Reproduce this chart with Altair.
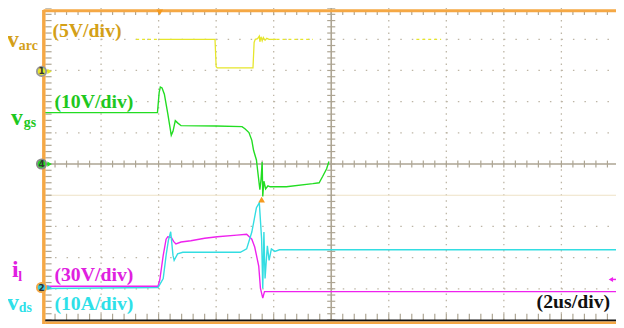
import altair as alt
import numpy as np
import pandas as pd

# ---------------- data ----------------
# time axis in divisions from the left edge (2 us/div),
# amplitude in screen divisions measured from the centre line
varc_t = [2.02, 2.98, 3.00, 3.02, 3.64, 3.66, 3.68, 3.72, 3.75, 3.76, 3.78, 3.80, 3.82, 3.85, 3.88, 3.92, 4.05]
varc_v = [4.00, 4.00, 3.12, 3.08, 3.08, 3.90, 4.00, 4.02, 4.10, 3.92, 4.08, 3.95, 4.06, 3.97, 4.03, 4.00, 4.00]
varc_dash_t = [1.61, 2.02, 4.05, 4.68, 6.48, 6.91]
varc_dash_v = [4.00, 4.00, 4.00, 4.00, 4.00, 4.00]
varc_dash_seg = [0, 0, 1, 1, 2, 2]

vgs_t = [0.00, 1.98, 2.01, 2.03, 2.06, 2.10, 2.16, 2.22, 2.25, 2.29, 2.33, 2.39, 3.00, 3.45, 3.50,
         3.57, 3.62, 3.65, 3.70, 3.72, 3.76, 3.78, 3.80, 3.81, 3.83, 3.86, 3.90, 3.94, 4.22, 4.68,
         4.79, 4.85, 4.92, 4.96]
vgs_v = [1.65, 1.65, 2.30, 2.47, 2.44, 2.24, 1.61, 0.92, 1.05, 1.39, 1.32, 1.23, 1.22, 1.20, 1.13,
         1.01, 0.76, 0.44, 0.13, -0.19, -0.82, -0.50, 0.06, -1.04, -0.55, -0.80, -0.70, -0.73, -0.73, -0.63,
         -0.60, -0.40, -0.15, 0.08]

il_t = [0.00, 1.99, 2.02, 2.08, 2.13, 2.16, 2.22, 2.26, 2.30, 2.39, 2.56, 2.80, 3.02, 3.36, 3.53,
        3.62, 3.67, 3.74, 3.77, 3.81, 3.84, 9.95]
il_v = [-3.92, -3.92, -3.72, -2.93, -2.41, -2.33, -2.35, -2.48, -2.56, -2.50, -2.46, -2.38, -2.33, -2.28, -2.25,
        -2.41, -2.66, -3.27, -3.99, -4.30, -4.09, -4.09]

vds_t = [0.00, 1.99, 2.08, 2.13, 2.17, 2.21, 2.25, 2.27, 2.33, 2.42, 3.42, 3.53, 3.62, 3.70, 3.75,
         3.79, 3.81, 3.83, 3.85, 3.89, 3.92, 3.96, 4.02, 4.10, 9.95]
vds_v = [-3.99, -3.96, -3.67, -2.93, -2.45, -2.17, -2.93, -3.09, -2.88, -2.83, -2.83, -2.72, -2.18, -1.40, -1.24,
         -2.40, -3.99, -2.18, -3.67, -2.62, -3.09, -2.72, -2.80, -2.75, -2.75]

# channel ground markers (left edge) and their levels in divisions
gnd_label = ["1", "4", "2"]
gnd_level = [2.97, 0.00, -3.96]
ch3_gnd_level = -3.70           # magenta marker on the right edge
trig_time = 2.02                # trigger position (top marker)
trig_level = -1.14              # trigger level marker

# ---------------- styling ----------------
YEL, YEL_TXT = "#E6E62A", "#D4A017"
GRN, GRN_TXT = "#22DD22", "#1EC81E"
MAG, MAG_TXT = "#EE22EE", "#E020E0"
CYN, CYN_TXT = "#33DDE2", "#2EE0E8"
ORANGE = "#F5A845"
GRID = "#BDB5A5"
AXIS = "#ADA593"
FONT = "Times New Roman, Liberation Serif, serif"

X_DOM = [-0.6175, 9.949]
Y_DOM = [-5.127, 4.937]
xs = alt.Scale(domain=X_DOM, nice=False, zero=False)
ys = alt.Scale(domain=Y_DOM, nice=False, zero=False)


def X(f):
    return alt.X(f"{f}:Q", scale=xs, axis=None)


def Y(f):
    return alt.Y(f"{f}:Q", scale=ys, axis=None)


def rules(df, **mk):
    return alt.Chart(df).mark_rule(**mk).encode(x=X("x"), x2="x2", y=Y("y"), y2="y2")


def trace(t, v, color, width=1.4):
    df = pd.DataFrame({"t": t, "v": v})
    return alt.Chart(df).mark_line(color=color, strokeWidth=width, interpolate="linear").encode(
        x=X("t"), y=Y("v"), order="t:Q")


layers = []

# dotted grid
vx = [1, 2, 3, 4, 6, 7, 8, 9]
layers.append(rules(pd.DataFrame({"x": vx, "x2": vx, "y": [-5] * 8, "y2": [5] * 8}),
                    color=GRID, strokeWidth=1.3, strokeDash=[1.5, 4.8]))
hy = [-4, -3, -2, 1, 2, 3, 4]
layers.append(rules(pd.DataFrame({"x": [0] * 7, "x2": [10] * 7, "y": hy, "y2": hy}),
                    color=GRID, strokeWidth=1.3, strokeDash=[1.5, 10.16]))
# trigger-level line (faint)
layers.append(rules(pd.DataFrame({"x": [0], "x2": [10], "y": [-1], "y2": [-1]}),
                    color="#EEE2C6", strokeWidth=1.2))

# centre axes
layers.append(rules(pd.DataFrame({"x": [5, 0], "x2": [5, 10], "y": [-5, 0], "y2": [5, 0]}),
                    color=AXIS, strokeWidth=1.6))

# minor ticks
ty = np.round(np.arange(-5, 5.001, 0.2), 2)
tx = np.round(np.arange(0, 10.001, 0.2), 2)
layers.append(rules(pd.DataFrame({"x": 4.93, "x2": 5.07, "y": ty, "y2": ty}), color=AXIS, strokeWidth=1.2))
layers.append(rules(pd.DataFrame({"x": tx, "x2": tx, "y": -0.11, "y2": 0.11}), color=AXIS, strokeWidth=1.2))
layers.append(rules(pd.DataFrame({"x": tx, "x2": tx, "y": 4.93, "y2": 4.78}), color=AXIS, strokeWidth=1.2))
layers.append(rules(pd.DataFrame({"x": tx, "x2": tx, "y": -5.0, "y2": -4.80}), color=AXIS, strokeWidth=1.2))
layers.append(rules(pd.DataFrame({"x": 0.03, "x2": 0.14, "y": ty, "y2": ty}), color=AXIS, strokeWidth=1.2))

# traces
layers.append(trace(varc_t, varc_v, YEL, 1.3))
ydash = pd.DataFrame({"t": varc_dash_t, "v": varc_dash_v, "seg": varc_dash_seg})
layers.append(alt.Chart(ydash).mark_line(color=YEL, strokeWidth=1.3, strokeDash=[3, 3]).encode(
    x=X("t"), y=Y("v"), detail="seg:N"))
layers.append(trace(vgs_t, vgs_v, GRN))
layers.append(trace(il_t, il_v, MAG))
layers.append(trace(vds_t, vds_v, CYN))

# frame
layers.append(rules(pd.DataFrame({"x": [0.005], "x2": [0.005], "y": [-5.127], "y2": [4.937]}),
                    color=ORANGE, strokeWidth=3.5))
layers.append(rules(pd.DataFrame({"x": [0], "x2": [9.95], "y": [4.915], "y2": [4.915]}),
                    color=ORANGE, strokeWidth=3))
layers.append(rules(pd.DataFrame({"x": [0.03], "x2": [9.95], "y": [-5.02], "y2": [-5.02]}),
                    color="#111111", strokeWidth=2))
layers.append(rules(pd.DataFrame({"x": [0.03], "x2": [9.95], "y": [-5.09], "y2": [-5.09]}),
                    color=ORANGE, strokeWidth=2.5))

# ground markers
gdf = pd.DataFrame({"x": [-0.035] * 3, "v": gnd_level, "lab": gnd_label,
                    "fill": [YEL, GRN, "#35C8DA"], "stroke": ["#9A9A9A", "#8A8A8A", ORANGE]})
layers.append(alt.Chart(gdf).mark_point(shape="triangle-right", size=28, filled=True, opacity=1).encode(
    x=alt.X("xa:Q", scale=xs, axis=None), y=Y("v"),
    color=alt.Color("fill:N", scale=None)).transform_calculate(xa="datum.x + 0.14"))
layers.append(alt.Chart(gdf).mark_rule(strokeWidth=1.5).encode(
    x=alt.X("xa:Q", scale=xs, axis=None), x2="xb:Q", y=Y("v"),
    color=alt.Color("fill:N", scale=None)).transform_calculate(xa="datum.x", xb="datum.x + 0.12"))
layers.append(alt.Chart(gdf).mark_point(shape="circle", size=90, filled=True, opacity=1, strokeWidth=1.8).encode(
    x=X("x"), y=Y("v"), fill=alt.Fill("fill:N", scale=None), stroke=alt.Stroke("stroke:N", scale=None)))
layers.append(alt.Chart(gdf).mark_text(fontSize=9, fontWeight="bold", color="#333333", font="DejaVu Sans",
                                       baseline="middle", align="center").encode(
    x=X("x"), y=Y("v"), text="lab:N"))

# channel-3 marker on the right
layers.append(alt.Chart(pd.DataFrame({"x": [9.86], "v": [ch3_gnd_level]})).mark_point(
    shape="triangle-left", size=26, filled=True, color=MAG, opacity=1).encode(x=X("x"), y=Y("v")))
layers.append(alt.Chart(pd.DataFrame({"x": [9.86], "x2": [9.95], "v": [ch3_gnd_level]})).mark_rule(
    color=MAG, strokeWidth=1.5).encode(x=X("x"), x2="x2", y=Y("v")))

# trigger markers
layers.append(alt.Chart(pd.DataFrame({"x": [trig_time], "v": [4.86]})).mark_point(
    shape="triangle-down", size=45, filled=True, color="#F59A1E", opacity=1).encode(x=X("x"), y=Y("v")))
layers.append(alt.Chart(pd.DataFrame({"x": [3.79], "v": [trig_level]})).mark_point(
    shape="triangle-up", size=45, filled=True, color="#F59A1E", opacity=1).encode(x=X("x"), y=Y("v")))


# text labels (pixel positions inside the plot area)
def label(txt, px, py, color, size=20, align="left"):
    return alt.Chart(pd.DataFrame({"a": [0]})).mark_text(
        text=txt, font=FONT, fontWeight="bold", fontSize=size, color=color,
        align=align, baseline="alphabetic").encode(x=alt.value(px - 8), y=alt.value(py - 8))


layers += [
    label("v", 7, 45.5, YEL_TXT, 24), label("arc", 19, 48, YEL_TXT, 14),
    label("(5V/div)", 53, 35.5, YEL_TXT, 20),
    label("(10V/div)", 55, 107, GRN_TXT, 20),
    label("v", 11, 124, GRN_TXT, 24), label("gs", 24, 126, GRN_TXT, 14),
    label("i", 12, 278, MAG_TXT, 24), label("l", 18.5, 282, MAG_TXT, 14),
    label("(30V/div)", 55, 282, MAG_TXT, 20),
    label("v", 7, 312, CYN_TXT, 24), label("ds", 19, 314, CYN_TXT, 14),
    label("(10A/div)", 55, 312, CYN_TXT, 20),
    label("(2us/div)", 618, 310, "#111111", 20, align="right"),
]

chart = alt.layer(*layers).properties(
    width=616, height=318, autosize=alt.AutoSizeParams(type="none"), padding=0,
    background="white",
).configure_view(stroke=None)

chart.save("out.html", embed_options={"renderer": "svg", "actions": False})
